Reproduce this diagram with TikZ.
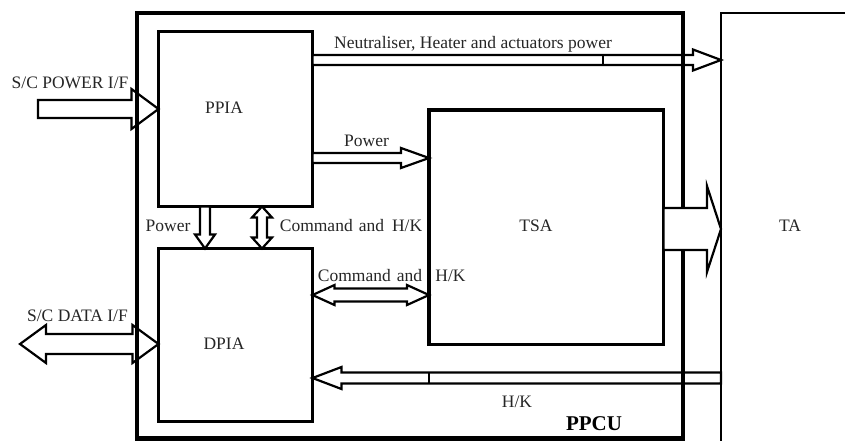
\documentclass[tikz,border=0pt]{standalone}
\usepackage{fontspec}
\setmainfont{Liberation Serif}
\usetikzlibrary{calc}
\tikzset{
  box/.style={draw, line width=3.2pt, outer sep=0pt, inner sep=0pt, anchor=north west},
  lbl/.style={inner sep=0pt, font=\fontsize{17.5}{20}\selectfont, text=black!85},
  arr/.style={draw, fill=white, line width=2.2pt, line join=miter},
}
% horizontal block arrow: #1 start, #2 tip, #3 shaft half, #4 head half, #5 head length
\newcommand\hblock[5]{%
  \path[arr] let \p1=(#1), \p2=(#2), \n1={sign(\x2-\x1)} in
    (\x1,\y1+#3) -- (\x2-\n1*#5,\y1+#3) -- (\x2-\n1*#5,\y1+#4) -- (\x2,\y1)
    -- (\x2-\n1*#5,\y1-#4) -- (\x2-\n1*#5,\y1-#3) -- (\x1,\y1-#3) -- cycle;}
% horizontal double block arrow
\newcommand\hdouble[5]{%
  \path[arr] let \p1=(#1), \p2=(#2), \n1={sign(\x2-\x1)} in
    (\x1,\y1) -- (\x1+\n1*#5,\y1+#4) -- (\x1+\n1*#5,\y1+#3) -- (\x2-\n1*#5,\y1+#3)
    -- (\x2-\n1*#5,\y1+#4) -- (\x2,\y1) -- (\x2-\n1*#5,\y1-#4) -- (\x2-\n1*#5,\y1-#3)
    -- (\x1+\n1*#5,\y1-#3) -- (\x1+\n1*#5,\y1-#4) -- cycle;}
% vertical block arrow
\newcommand\vblock[5]{%
  \path[arr] let \p1=(#1), \p2=(#2), \n1={sign(\y2-\y1)} in
    (\x1+#3,\y1) -- (\x1+#3,\y2-\n1*#5) -- (\x1+#4,\y2-\n1*#5) -- (\x1,\y2)
    -- (\x1-#4,\y2-\n1*#5) -- (\x1-#3,\y2-\n1*#5) -- (\x1-#3,\y1) -- cycle;}
% vertical double block arrow
\newcommand\vdouble[5]{%
  \path[arr] let \p1=(#1), \p2=(#2), \n1={sign(\y2-\y1)} in
    (\x1,\y1) -- (\x1+#4,\y1+\n1*#5) -- (\x1+#3,\y1+\n1*#5) -- (\x1+#3,\y2-\n1*#5)
    -- (\x1+#4,\y2-\n1*#5) -- (\x1,\y2) -- (\x1-#4,\y2-\n1*#5) -- (\x1-#3,\y2-\n1*#5)
    -- (\x1-#3,\y1+\n1*#5) -- (\x1-#4,\y1+\n1*#5) -- cycle;}
\begin{document}
\begin{tikzpicture}[x=1pt,y=-1pt]
\useasboundingbox (0,0) rectangle (845,440);
\clip (0,0) rectangle (845,440);
\fill[white] (0,0) rectangle (845,440);

% boxes
\node[box, minimum width=154pt, minimum height=175pt] (ppia) at (158.5,31.5) {};
\node[box, minimum width=154pt, minimum height=173pt] (dpia) at (158.5,248.5) {};
\node[box, minimum width=234.5pt, minimum height=234.5pt] (tsa) at (429,110) {};
\node[draw, line width=2pt, outer sep=0pt, inner sep=0pt, anchor=north west,
      minimum width=200pt, minimum height=500pt] (ta) at (721,12.5) {};

% free ends
\coordinate (pwrin) at (38,109);
\coordinate (datain) at (20,344);

% thin arrows (under the PPCU border)
\hblock{pwrin}{ppia.west |- pwrin}{9}{20}{27}
\hblock{ppia.east |- 0,60}{ta.west |- 0,60}{5}{10.5}{28}
\draw[line width=2pt] (603,55) -- (603,65);
\hblock{ppia.east |- 0,158}{tsa.west |- 0,158}{5}{10}{28}
\vblock{ppia.south -| 205,0}{dpia.north -| 205,0}{5}{10}{14}
\vdouble{ppia.south -| 262,0}{dpia.north -| 262,0}{5}{10}{11}
\hdouble{dpia.east |- 0,295}{tsa.west |- 0,295}{6.5}{10}{22}
\hdouble{datain}{dpia.west |- datain}{10}{19}{26}
\hblock{ta.west |- 0,378}{dpia.east |- 0,378}{5.5}{11}{29}
\draw[line width=2pt] (429,372.5) -- (429,383.5);

% PPCU outer border
\node[box, line width=4.5pt, minimum width=546pt, minimum height=425.5pt] (ppcu) at (137,13) {};

% big TSA -> TA arrow (over the PPCU border)
\hblock{tsa.east |- 0,229}{ta.west |- 0,229}{21}{43}{14}

% labels
\node[lbl] (tppia) at (224,108) {PPIA};
\node[lbl] (tdpia) at (224,344) {DPIA};
\node[lbl] (ttsa) at (536,226) {TSA};
\node[lbl] (tta) at (790,226) {TA};
\node[inner sep=0pt, font=\fontsize{21}{24}\selectfont\bfseries] (tppcu) at (594,424) {PPCU};
\node[lbl] (lpwr) at (70,82.5) {S/C POWER I/F};
\node[lbl] (lneut) at (473,44) {Neutraliser, Heater and actuators power};
\node[lbl] (lp1) at (366.5,141) {Power};
\node[lbl] (lp2) at (168,226) {Power};
\node[lbl] (lcmd1) at (351,226) {Command\hspace{6pt}and\hspace{8pt}H/K};
\node[lbl] (lcmd2) at (370,276) {Command\hspace{6pt}and};
\node[lbl] (lhk1) at (450.5,276) {H/K};
\node[lbl] (ldata) at (77.5,316) {S/C DATA I/F};
\node[lbl] (lhk2) at (517,402) {H/K};
\end{tikzpicture}
\end{document}
